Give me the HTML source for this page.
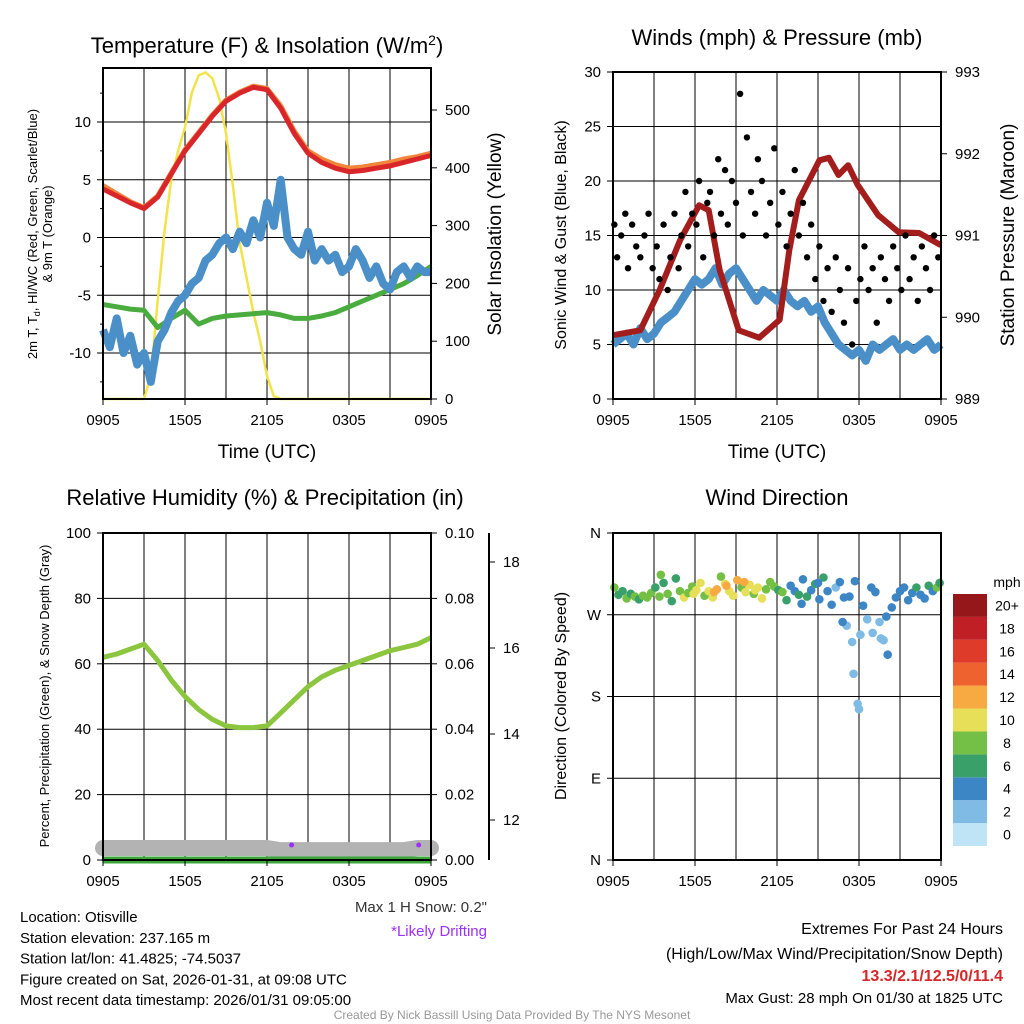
<!DOCTYPE html>
<html><head><meta charset="utf-8"><style>
body{margin:0;background:#fff}
svg{display:block;font-family:"Liberation Sans",sans-serif}
</style></head><body>
<svg id="fig" width="1024" height="1024" xmlns="http://www.w3.org/2000/svg"></svg>
<script>
// ---------- DATA ----------
const hourTicks=[0,6,12,18,24];
const hourTickLabels=["0905","1505","2105","0305","0905"];
// Panel 1 (hourly, h0..h24)
const tempRed=[4.2,3.6,3.0,2.5,3.5,5.5,7.5,9.0,10.5,11.8,12.5,13.0,12.8,11.2,9.0,7.3,6.5,6.0,5.7,5.8,6.0,6.2,6.5,6.8,7.1];
const temp9mOrange=[4.5,3.8,3.1,2.6,3.6,5.6,7.6,9.1,10.6,11.9,12.6,13.1,12.9,11.4,9.2,7.5,6.8,6.3,6.0,6.1,6.3,6.5,6.8,7.0,7.3];
const windChillGreen=[-5.8,-6.0,-6.2,-6.3,-7.8,-7.0,-6.3,-7.5,-7.0,-6.8,-6.7,-6.6,-6.5,-6.7,-7.0,-7.0,-6.8,-6.5,-6.0,-5.5,-5.0,-4.5,-4.0,-3.3,-2.5];
// half-hourly dewpoint (h0..h24 step .5)
const dewBlue=[-8,-9.5,-7,-10,-8.5,-11,-10,-12.5,-9,-8,-6.5,-5.5,-5,-4,-3.5,-2,-1.5,-0.5,0,-1,0.5,-0.5,1.5,0,3,1,5,0,-1,-1.5,0.5,-2,-1,-2,-1.5,-3,-2.5,-1,-2,-3.5,-2.5,-4,-4.5,-3,-2.5,-3.5,-2.5,-3,-3];
const solarHours=[0,3,3.5,4,4.5,5,5.5,6,6.5,7,7.5,8,8.5,9,9.5,10,10.5,11,11.5,12,12.5,13,24];
const solarWm2=[0,0,40,170,290,380,430,470,530,560,565,555,520,460,370,270,210,150,100,40,5,0,0];
// Panel 2
const windBlue=[5,5.5,6,5,6.5,5.5,6,7,7.5,8,9,10,11,10.5,11,12,10.5,11.5,12,11,10,9,10,9.5,9,10,9,8.5,9,8,8.5,7,6,5,4.5,4,4.5,3.5,5,4.5,5,5.5,4.5,5,4.5,5,5.5,4.5,5];
const pressHours=[0,2,3.4,4.9,6.3,7,7.8,9.2,10.7,12.2,12.9,13.6,15.1,15.8,16.5,17.2,17.9,19.4,20.9,22.4,24];
const pressMb=[989.78,989.84,990.33,990.94,991.37,991.31,990.58,989.84,989.75,989.97,990.82,991.43,991.92,991.95,991.74,991.86,991.62,991.25,991.04,991.03,990.88];
const gustHours=[0.1,0.3,0.6,0.9,1.1,1.4,1.7,2.0,2.3,2.6,2.9,3.2,3.4,3.7,4.0,4.2,4.5,4.8,5.0,5.3,5.5,5.8,6.1,6.3,6.6,6.9,7.1,7.4,7.7,7.9,8.2,8.4,8.7,9.0,9.3,9.5,9.8,10.1,10.4,10.6,10.9,11.2,11.5,11.8,12.1,12.4,12.7,13.0,13.3,13.6,13.9,14.2,14.5,14.8,15.1,15.4,15.7,16.0,16.3,16.6,16.9,17.2,17.5,17.8,18.1,18.4,18.7,19.0,19.3,19.6,19.9,20.2,20.5,20.8,21.1,21.4,21.7,22.0,22.3,22.6,22.9,23.2,23.5,23.8];
const gustMph=[16,13,15,17,12,16,14,13,15,17,12,14,11,16,10,13,17,12,15,19,14,17,16,20,13,18,19,15,22,17,21,16,20,18,28,15,24,19,17,22,20,15,18,23,16,19,14,17,21,15,18,13,16,11,14,9,12,8,13,10,7,12,5,9,11,14,10,12,7,13,11,9,14,12,10,15,11,13,9,14,12,10,15,13];
// Panel 3
const rhGreen=[62,63,64.5,66,61,55,50,46,43,41,40.5,40.5,41,45,49,53,56,58,59.5,61,62.5,64,65,66,68];
const snowDepthIn=[11.35,11.35,11.35,11.35,11.35,11.35,11.35,11.35,11.35,11.35,11.35,11.35,11.35,11.3,11.3,11.3,11.3,11.3,11.3,11.3,11.3,11.3,11.3,11.35,11.35];
const precipIn=[0,0,0,0,0,0,0,0,0,0,0,0,0,0,0,0,0,0,0,0,0,0,0,0,0];
const driftHours=[13.8,23.1];
// Panel 4
const dirHours=[0.1,0.4,0.7,1.0,1.3,1.6,1.9,2.2,2.5,2.8,3.1,3.4,3.7,4.0,4.3,4.6,4.9,5.2,5.5,5.8,6.1,6.4,6.7,7.0,7.3,7.6,7.9,8.2,8.5,8.8,9.1,9.4,9.7,10.0,10.3,10.6,10.9,11.2,11.5,11.8,12.1,12.4,12.7,13.0,13.3,13.6,13.9,14.2,14.5,14.8,15.1,15.4,15.7,16.0,16.3,16.6,16.9,17.1,17.3,17.5,17.7,17.9,18.1,18.3,18.6,18.9,19.2,19.5,19.8,20.1,20.4,20.7,21.0,21.3,21.6,21.9,22.2,22.5,22.8,23.1,23.4,23.7,23.9,5.9,7.4,9.6,10.4,3.5,8.3,16.8,17.6,18.0,19.0,19.6,20.0,13.8,15.0];
const dirDeg=[300,292,296,288,293,290,287,291,289,294,300,290,305,293,285,310,296,289,294,301,297,305,291,296,289,298,312,304,296,291,308,300,295,303,293,300,288,298,306,301,297,295,286,302,296,292,309,290,297,304,287,311,296,281,300,306,289,258,290,240,307,172,248,280,265,300,295,262,242,226,278,289,296,300,286,294,300,292,288,302,296,300,305,293,295,306,297,314,302,262,205,166,250,244,268,282,305];
const dirSpeed=[7,6,6,7,6,7,6,7,7,7,6,7,6,8,6,5,7,9,7,8,9,10,8,9,10,11,8,9,10,9,12,8,10,9,8,9,10,8,7,8,5,7,5,4,4,5,4,6,4,5,4,6,4,4,2,4,4,2,4,2,4,2,2,4,2,4,4,2,2,3,4,4,4,4,4,4,5,4,4,6,4,7,6,10,12,12,10,7,12,4,2,2,2,2,4,3,4];
const cbLabels=["0","2","4","6","8","10","12","14","16","18","20+"];
const cbColors=["#bfe4f6","#7fbbe4","#3d86c5","#3aa06a","#74bf45","#e6df57","#f7a942","#ee6230","#df3b2b","#c11f26","#961719"];

// ---------- HELPERS ----------
const NS="http://www.w3.org/2000/svg";
const svg=document.getElementById('fig');
function el(tag,attrs,parent){const e=document.createElementNS(NS,tag);for(const k in attrs)e.setAttribute(k,attrs[k]);(parent||svg).appendChild(e);return e;}
function txt(s,x,y,size,anchor,parent,extra){const t=el('text',Object.assign({x:x,y:y,'font-size':size,'text-anchor':anchor||'middle',fill:'#000'},extra||{}),parent);t.textContent=s;return t;}
function lin(d0,d1,r0,r1){return v=>r0+(v-d0)*(r1-r0)/(d1-d0);}
function poly(xs,ys,fx,fy){return xs.map((h,i)=>fx(h).toFixed(1)+','+fy(ys[i]).toFixed(1)).join(' ');}
const halfHours=dewBlue.map((_,i)=>i*0.5);
const hours=tempRed.map((_,i)=>i);

function frame(g,x0,y0,x1,y1,fx,yGrid){
  for(let h=3;h<24;h+=3)el('line',{x1:fx(h),x2:fx(h),y1:y0,y2:y1,stroke:'#000','stroke-width':1},g);
  yGrid.forEach(y=>el('line',{x1:x0,x2:x1,y1:y,y2:y,stroke:'#000','stroke-width':1},g));
}
function border(g,x0,y0,x1,y1,fx){
  el('rect',{x:x0,y:y0,width:x1-x0,height:y1-y0,fill:'none',stroke:'#000','stroke-width':2},g);
  hourTicks.forEach((h,i)=>{el('line',{x1:fx(h),x2:fx(h),y1:y1,y2:y1+6,stroke:'#000'},g);
    const t=txt(hourTickLabels[i],fx(h),y1+26,15,'middle',g);});
}
function yTicks(g,x,side,fy,vals,labels,size){
  vals.forEach((v,i)=>{const y=fy(v);el('line',{x1:x,x2:x+side*6,y1:y,y2:y,stroke:'#000'},g);
    const t=txt(labels[i],x+side*(side<0?12:14),y+5,size||15,side<0?'end':'start',g);});
}

// ---------- PANEL 1 ----------
(function(){
const g=el('g',{});
const fx=lin(0,24,103,431), fy=lin(0,10,237.5,122), fs=lin(0,500,399,110);
const x0=103,x1=431,y0=68,y1=399;
frame(g,x0,y0,x1,y1,fx,[-10,-5,0,5,10].map(fy));
const s=el('polyline',{points:poly(solarHours,solarWm2,fx,fs),fill:'none',stroke:'#f2e34c','stroke-width':2.5},g);
const gr=el('polyline',{points:poly(hours,windChillGreen,fx,fy),fill:'none',stroke:'#4aac3e','stroke-width':5,'stroke-linejoin':'round'},g);
const b=el('polyline',{points:poly(halfHours,dewBlue,fx,fy),fill:'none',stroke:'#4a8fc8','stroke-width':8,'stroke-linejoin':'round'},g);
const o=el('polyline',{points:poly(hours,temp9mOrange,fx,fy),fill:'none',stroke:'#f1853a','stroke-width':5,'stroke-linejoin':'round'},g);
const r=el('polyline',{points:poly(hours,tempRed,fx,fy),fill:'none',stroke:'#d9262a','stroke-width':5,'stroke-linejoin':'round'},g);
border(g,x0,y0,x1,y1,fx);
yTicks(g,x0,-1,fy,[-10,-5,0,5,10],["-10","-5","0","5","10"]);
[-12.5,-7.5,-2.5,2.5,7.5,12.5].forEach(v=>el('line',{x1:x0,x2:x0-3,y1:fy(v),y2:fy(v),stroke:'#000'},g));
yTicks(g,x1,1,fs,[0,100,200,300,400,500],["0","100","200","300","400","500"]);
const t=el('text',{x:267,y:53,'font-size':22,'text-anchor':'middle'},g);t.innerHTML='Temperature (F) &amp; Insolation (W/m<tspan dy="-8" font-size="14">2</tspan><tspan dy="8">)</tspan>';
const xl=txt('Time (UTC)',267,458,19,'middle',g);
const yl=el('text',{transform:'translate(37,234) rotate(-90)','font-size':13,'text-anchor':'middle'},g);yl.innerHTML='2m T, T<tspan font-size="9" dy="3">d</tspan><tspan dy="-3">, HI/WC (Red, Green, Scarlet/Blue)</tspan>';
const yl2=txt('& 9m T (Orange)',0,0,13,'middle',g,{transform:'translate(52,234) rotate(-90)'});
const yr=txt('Solar Insolation (Yellow)',0,0,19,'middle',g,{transform:'translate(501,234) rotate(-90)'});
})();

// ---------- PANEL 2 ----------
(function(){
const g=el('g',{});
const fx=lin(0,24,613,941), fy=lin(0,30,399,72), fp=lin(989,993,399,72);
const x0=613,x1=941,y0=72,y1=399;
frame(g,x0,y0,x1,y1,fx,[5,10,15,20,25].map(fy));
const b=el('polyline',{points:poly(halfHours,windBlue,fx,fy),fill:'none',stroke:'#4a8fc8','stroke-width':8,'stroke-linejoin':'round'},g);
const p=el('polyline',{points:poly(pressHours,pressMb,fx,fp),fill:'none',stroke:'#a31d1d','stroke-width':6,'stroke-linejoin':'round'},g);
gustHours.forEach((h,i)=>{const c=el('circle',{cx:fx(h),cy:fy(gustMph[i]),r:3.2,fill:'#000'},g);});
border(g,x0,y0,x1,y1,fx);
yTicks(g,x0,-1,fy,[0,5,10,15,20,25,30],["0","5","10","15","20","25","30"]);
yTicks(g,x1,1,fp,[989,990,991,992,993],["989","990","991","992","993"]);
const t=txt('Winds (mph) & Pressure (mb)',777,45,22,'middle',g);
const xl=txt('Time (UTC)',777,458,19,'middle',g);
const yl=txt('Sonic Wind & Gust (Blue, Black)',0,0,16,'middle',g,{transform:'translate(566,235) rotate(-90)'});
const yr=txt('Station Pressure (Maroon)',0,0,19,'middle',g,{transform:'translate(1014,235) rotate(-90)'});
})();

// ---------- PANEL 3 ----------
(function(){
const g=el('g',{});
const fx=lin(0,24,103,431), fy=lin(0,100,860,533), fpr=lin(0,0.1,860,533), fsn=lin(12,18,820,562);
const x0=103,x1=431,y0=533,y1=860;
frame(g,x0,y0,x1,y1,fx,[20,40,60,80].map(fy));
const sn=el('polyline',{points:poly(hours,snowDepthIn,fx,fsn),fill:'none',stroke:'#b3b3b3','stroke-width':16,'stroke-linejoin':'round','stroke-linecap':'round'},g);
const pr=el('polyline',{points:poly(hours,precipIn,fx,fpr),fill:'none',stroke:'#3aa53a','stroke-width':7},g);
driftHours.forEach(h=>{const c=el('circle',{cx:fx(h),cy:845,r:2.5,fill:'#9b30ff'},g);});
const rh=el('polyline',{points:poly(hours,rhGreen,fx,fy),fill:'none',stroke:'#8cc63f','stroke-width':5,'stroke-linejoin':'round'},g);
border(g,x0,y0,x1,y1,fx);
yTicks(g,x0,-1,fy,[0,20,40,60,80,100],["0","20","40","60","80","100"]);
yTicks(g,x1,1,fpr,[0,0.02,0.04,0.06,0.08,0.1],["0.00","0.02","0.04","0.06","0.08","0.10"]);
el('line',{x1:489,x2:489,y1:533,y2:860,stroke:'#000','stroke-width':2},g);
yTicks(g,489,1,fsn,[12,14,16,18],["12","14","16","18"]);
const t=txt('Relative Humidity (%) & Precipitation (in)',265,505,22,'middle',g);
const yl=txt('Percent, Precipitation (Green), & Snow Depth (Gray)',0,0,13,'middle',g,{transform:'translate(49,696) rotate(-90)'});
const m=txt('Max 1 H Snow: 0.2"',487,912,15,'end',g,{fill:'#333'});
const d=txt('*Likely Drifting',487,936,15,'end',g,{fill:'#9b30ff'});
})();

// ---------- PANEL 4 ----------
(function(){
const g=el('g',{});
const fx=lin(0,24,613,941), fy=lin(0,360,860,533);
const x0=613,x1=941,y0=533,y1=860;
frame(g,x0,y0,x1,y1,fx,[90,180,270].map(fy));
function col(s){let i=Math.round(s/2);if(i>10)i=10;if(i<0)i=0;return cbColors[i];}
dirHours.forEach((h,i)=>{const c=el('circle',{cx:fx(h),cy:fy(dirDeg[i]),r:4.3,fill:col(dirSpeed[i])},g);});
border(g,x0,y0,x1,y1,fx);
yTicks(g,x0,-1,fy,[0,90,180,270,360],["N","E","S","W","N"]);
const t=txt('Wind Direction',777,505,22,'middle',g);
const yl=txt('Direction (Colored By Speed)',0,0,16,'middle',g,{transform:'translate(566,696) rotate(-90)'});
const cb=el('g',{},g);
const bh=252/cbColors.length;
cbColors.forEach((c,i)=>{const y=846-(i+1)*bh;el('rect',{x:953,y:y,width:34,height:bh,fill:c},cb);
  const l=txt(cbLabels[i],1007,y+bh/2+5,14,'middle',cb);});
const u=txt('mph',1007,587,14,'middle',cb);
})();

// ---------- FOOTER ----------
const info=["Location: Otisville","Station elevation: 237.165 m","Station lat/lon: 41.4825; -74.5037","Figure created on Sat, 2026-01-31, at 09:08 UTC","Most recent data timestamp: 2026/01/31 09:05:00"];
info.forEach((s,i)=>{const t=txt(s,20,922+i*20.8,15,'start');});
let e1=txt('Extremes For Past 24 Hours',1003,934,16,'end');
let e2=txt('(High/Low/Max Wind/Precipitation/Snow Depth)',1003,959,16,'end');
let e3=txt('13.3/2.1/12.5/0/11.4',1003,981,16,'end',null,{fill:'#d62728','font-weight':'bold'});
let e4=txt('Max Gust: 28 mph On 01/30 at 1825 UTC',1003,1003,15,'end');
let cr=txt('Created By Nick Bassill Using Data Provided By The NYS Mesonet',512,1019,12,'middle',null,{fill:'#999'});
</script>
</body></html>
